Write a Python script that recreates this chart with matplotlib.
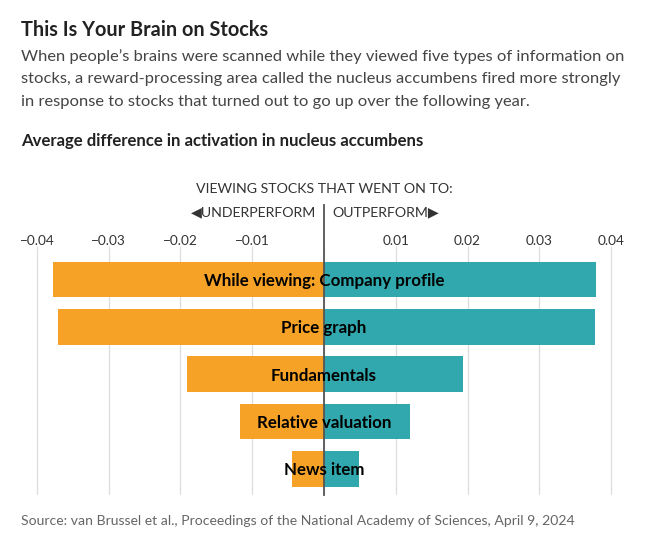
import numpy as np
import matplotlib.pyplot as plt

# data
categories = ["While viewing: Company profile", "Price graph", "Fundamentals",
              "Relative valuation", "News item"]
underperform = [-0.0377, -0.0370, -0.0191, -0.0117, -0.0045]
outperform = [0.0379, 0.0378, 0.0194, 0.0120, 0.0049]
ticks = [-0.04, -0.03, -0.02, -0.01, 0, 0.01, 0.02, 0.03, 0.04]
tick_labels = ["\u22120.04", "\u22120.03", "\u22120.02", "\u22120.01", "",
               "0.01", "0.02", "0.03", "0.04"]
subtitle = ["When people\u2019s brains were scanned while they viewed five types of information on",
            "stocks, a reward-processing area called the nucleus accumbens fired more strongly",
            "in response to stocks that turned out to go up over the following year."]

orange = "#f6a227"
teal = "#30a8ad"

plt.rcParams["font.family"] = ["Lato", "DejaVu Sans"]

fig = plt.figure(figsize=(6.46, 5.5), dpi=100)
ax = fig.add_axes([19 / 646, 55 / 550, 610 / 646, 245 / 550])

y = np.arange(len(categories))
ax.barh(y, underperform, height=0.75, color=orange, zorder=2)
ax.barh(y, outperform, height=0.75, color=teal, zorder=2)

for yi, name in zip(y, categories):
    ax.text(0, yi + 0.03, name, ha="center", va="center", fontsize=12.2,
            fontweight="bold", color="black", zorder=4)

ax.set_xlim(-0.0425, 0.0425)
ax.set_ylim(4.55, -0.62)
ax.set_xticks(ticks)
ax.set_xticklabels(tick_labels, fontsize=9.8, color="#333333")
ax.xaxis.tick_top()
ax.tick_params(axis="x", length=3, color="#dddddd", pad=-1)
ax.tick_params(axis="y", left=False, labelleft=False)
ax.grid(axis="x", color="#dddddd", linewidth=0.9, zorder=0)
for s in ax.spines.values():
    s.set_visible(False)

# zero line, running up between the two direction labels
ax.plot([0, 0], [0, 1.184], transform=ax.get_xaxis_transform(),
        color="#555555", linewidth=1.3, clip_on=False, zorder=3)

# header above the axis
fig.text(324 / 646, 1 - 189 / 550, "VIEWING STOCKS THAT WENT ON TO:",
         ha="center", va="center", fontsize=10.2, color="#333333")
fig.text(316 / 646, 1 - 212 / 550, "\u25c0UNDERPERFORM", ha="right", va="center",
         fontsize=10.2, color="#333333")
fig.text(332 / 646, 1 - 212 / 550, "OUTPERFORM\u25b6", ha="left", va="center",
         fontsize=10.2, color="#333333")

# titles
fig.text(21 / 646, 1 - 30 / 550, "This Is Your Brain on Stocks", ha="left",
         va="center", fontsize=14.3, fontweight="bold", color="#222222")
for i, line in enumerate(subtitle):
    fig.text(21 / 646, 1 - (57 + 22.5 * i) / 550, line, ha="left", va="center",
             fontsize=11.85, color="#444444")
fig.text(21 / 646, 1 - 141 / 550, "Average difference in activation in nucleus accumbens",
         ha="left", va="center", fontsize=12.1, fontweight="bold", color="#222222")
fig.text(21 / 646, 1 - 521 / 550,
         "Source: van Brussel et al., Proceedings of the National Academy of Sciences, April 9, 2024",
         ha="left", va="center", fontsize=10.1, color="#666666")

fig.savefig("out.png", dpi=100)
